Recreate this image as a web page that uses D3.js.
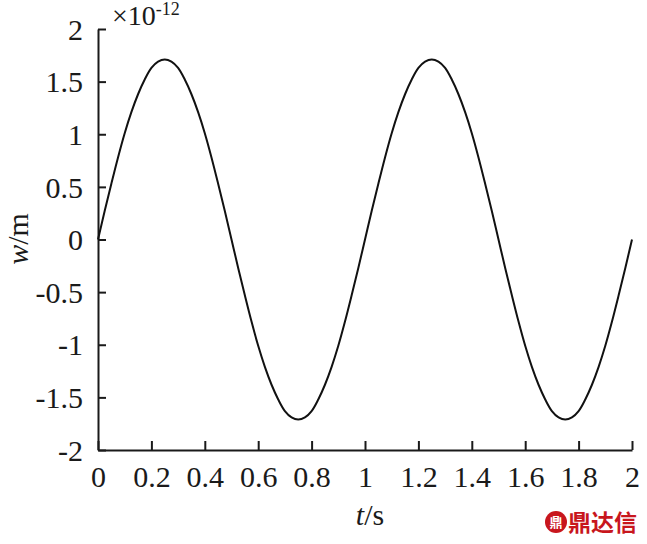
<!DOCTYPE html>
<html>
<head>
<meta charset="utf-8">
<script src="https://cdn.jsdelivr.net/npm/d3@7"></script>
<style>
  html, body { margin: 0; padding: 0; background: #fff; }
  svg { display: block; }
</style>
</head>
<body>
<svg id="chart" width="647" height="544"></svg>
<script>
// Data, w in units of 1e-12 m
const tValues = [0,0.025,0.05,0.075,0.1,0.125,0.15,0.175,0.2,0.225,0.25,0.275,0.3,0.325,0.35,0.375,0.4,0.425,0.45,0.475,
  0.5,0.525,0.55,0.575,0.6,0.625,0.65,0.675,0.7,0.725,0.75,0.775,0.8,0.825,0.85,0.875,0.9,0.925,0.95,0.975,
  1,1.025,1.05,1.075,1.1,1.125,1.15,1.175,1.2,1.225,1.25,1.275,1.3,1.325,1.35,1.375,1.4,1.425,1.45,1.475,
  1.5,1.525,1.55,1.575,1.6,1.625,1.65,1.675,1.7,1.725,1.75,1.775,1.8,1.825,1.85,1.875,1.9,1.925,1.95,1.975,2];
const wValues = [0,0.27,0.53,0.78,1.01,1.21,1.38,1.52,1.63,1.69,1.71,1.69,1.63,1.52,1.38,1.21,1.01,0.78,0.53,0.27,
  0,-0.27,-0.53,-0.78,-1.01,-1.21,-1.38,-1.52,-1.63,-1.69,-1.71,-1.69,-1.63,-1.52,-1.38,-1.21,-1.01,-0.78,-0.53,-0.27,
  0,0.27,0.53,0.78,1.01,1.21,1.38,1.52,1.63,1.69,1.71,1.69,1.63,1.52,1.38,1.21,1.01,0.78,0.53,0.27,
  0,-0.27,-0.53,-0.78,-1.01,-1.21,-1.38,-1.52,-1.63,-1.69,-1.71,-1.69,-1.63,-1.52,-1.38,-1.21,-1.01,-0.78,-0.53,-0.27,0];
const xTicks = [0,0.2,0.4,0.6,0.8,1,1.2,1.4,1.6,1.8,2];
const xTickLabels = ["0","0.2","0.4","0.6","0.8","1","1.2","1.4","1.6","1.8","2"];
const yTicks = [-2,-1.5,-1,-0.5,0,0.5,1,1.5,2];
const yTickLabels = ["-2","-1.5","-1","-0.5","0","0.5","1","1.5","2"];

(function () {
const svg = d3.select("#chart");
const mLeft = 98, mRight = 632, mTop = 29, mBottom = 450;
const x = d3.scaleLinear().domain([0, 2]).range([mLeft, mRight]);
const y = d3.scaleLinear().domain([-2, 2]).range([mBottom, mTop]);
const font = '"Liberation Serif", "Times New Roman", serif';
const ink = "#1a1a1a";

// X axis
const xAxis = d3.axisBottom(x).tickValues(xTicks).tickSizeInner(-9).tickSizeOuter(0)
  .tickFormat((d, i) => xTickLabels[i]);
const gx = svg.append("g").attr("transform", `translate(0,${mBottom})`).call(xAxis)
  .attr("font-family", null).attr("font-size", null);
gx.select(".domain").attr("stroke", ink).attr("stroke-width", 2);
gx.selectAll(".tick line").attr("stroke", ink).attr("stroke-width", 2);
gx.selectAll(".tick text").style("font-family", font).style("font-size", "30px").attr("fill", ink)
  .attr("dy", null).attr("y", 37);

// Y axis
const yAxis = d3.axisLeft(y).tickValues(yTicks).tickSizeInner(-8).tickSizeOuter(0)
  .tickFormat((d, i) => yTickLabels[i]);
const gy = svg.append("g").attr("transform", `translate(${mLeft},0)`).call(yAxis)
  .attr("font-family", null).attr("font-size", null);
gy.select(".domain").attr("stroke", ink).attr("stroke-width", 2);
gy.selectAll(".tick line").attr("stroke", ink).attr("stroke-width", 2);
gy.selectAll(".tick text").style("font-family", font).style("font-size", "30px").attr("fill", ink)
  .attr("x", -15).attr("dy", "0.34em");

// Curve
const data = tValues.map((t, i) => ({ t, w: wValues[i] }));
const line = d3.line().x(d => x(d.t)).y(d => y(d.w)).curve(d3.curveCatmullRom.alpha(0.5));
svg.append("path").datum(data).attr("d", line)
  .attr("fill", "none").attr("stroke", "#111").attr("stroke-width", 2);

// Axis labels
const xl = svg.append("text").attr("x", 370).attr("y", 525).attr("text-anchor", "middle")
  .style("font-family", font).style("font-size", "30px").attr("fill", ink);
xl.append("tspan").attr("font-style", "italic").text("t");
xl.append("tspan").text("/s");

const yl = svg.append("text").attr("transform", "translate(28,239) rotate(-90)").attr("text-anchor", "middle")
  .style("font-family", font).style("font-size", "30px").attr("fill", ink);
yl.append("tspan").attr("font-style", "italic").text("w");
yl.append("tspan").text("/m");

// Exponent
const ex = svg.append("text").attr("x", 112).attr("y", 25)
  .style("font-family", font).style("font-size", "28px").attr("fill", ink);
ex.append("tspan").text("×10");
ex.append("tspan").style("font-size", "18px").attr("dy", -10).text("-12");

// Watermark
const wm = svg.append("g");
wm.append("circle").attr("cx", 556).attr("cy", 522).attr("r", 11).attr("fill", "#c8161d");
wm.append("text").attr("x", 556).attr("y", 527).attr("text-anchor", "middle")
  .style("font-family", '"Noto Sans CJK SC", sans-serif').style("font-size", "13px").attr("font-weight", "bold")
  .attr("fill", "#fff").text("鼎");
wm.append("text").attr("x", 568).attr("y", 531)
  .style("font-family", '"Noto Sans CJK SC", sans-serif').style("font-size", "23px").attr("font-weight", "bold")
  .attr("fill", "#c8161d").text("鼎达信");
})();
</script>
</body>
</html>
